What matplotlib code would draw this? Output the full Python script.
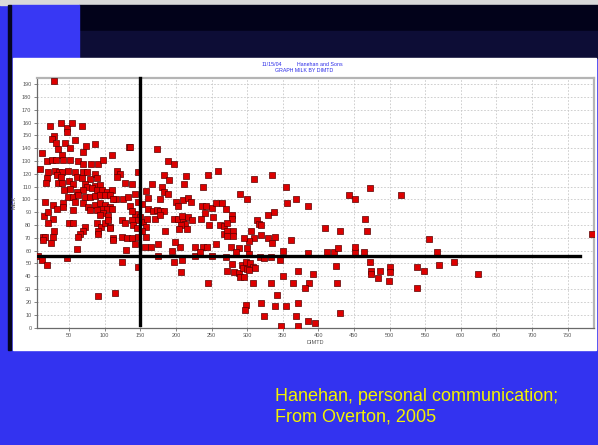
import numpy as np
import matplotlib
matplotlib.use("Agg")
import matplotlib.pyplot as plt
from matplotlib.patches import Rectangle

# herd test-day records: days in milk (DIMTD) vs milk yield
dimtd = [
    29, 23, 38.6, 46.6, 46.6, 53.6, 67.7, 28.8, 25.5, 31.6, 58.3, 44.3, 51.3, 86.4, 73.8,
    11.5, 34.9, 70, 109.8, 18.5, 25.5, 31.6, 39.6, 42, 51.3, 63, 70, 80.8, 91, 98.1,
    9.1, 20.8, 30.2, 36.3, 39.6, 49, 58.3, 70, 75.6, 86.4, 117.8, 121.5, 18.5, 32.5, 38.2,
    60.6, 67.7, 79.4, 88.7, 117.8, 17.6, 34.9, 39.6, 50.3, 56, 72.3, 74.7, 86.4, 93.4, 128.5,
    43.3, 51.3, 60.6, 70, 81.7, 88.7, 95.8, 102.8, 109.8, 49, 55, 63, 72.3, 79.4, 86.4,
    93.4, 100.4, 107.5, 115.9, 126.2, 133.2, 58.3, 70, 77, 86.4, 93.4, 100.4, 107.5, 111.2,
    95.8, 102.8, 109.8, 88.7, 16.2, 27.9, 42, 98.1, 105.1, 93.4, 14.8, 20.8, 33.5, 42, 56,
    79.4, 27, 20.8, 88.7, 94.4, 100.4, 105.1, 107.5, 123.8, 128.5, 50.3, 56, 72.3, 70, 65.3,
    63, 91, 91, 107.5, 28.8, 12.9, 16.2, 13.8, 24.1, 27.9, 61.6, 111.2, 111.2, 123.8, 130.9,
    130, 47.5, 6.8, 11.5, 19.4, 123.8, 91, 114.5, 134.6,
    # 135 - 270
    135, 173, 188.4, 197, 147, 184, 190, 213.7, 212, 237.6, 245.5, 258.6, 138, 167, 181,
    184, 188.4, 157.5, 142.5, 160.3, 177.6, 200, 203.4, 210.4, 217.5, 221, 236, 242, 250,
    257, 265, 135.5, 147, 152, 161, 168, 173, 177.6, 184, 170.6, 177.6, 142.5, 149.6, 146,
    138, 138, 154, 157.5, 159, 198, 203.4, 210, 217.5, 222, 209, 213, 235, 252.6, 241,
    246.5, 262, 267.5, 207, 204, 216, 185, 140, 145, 152, 157.5, 147, 138, 142.5, 156.6,
    165, 174.4, 205.7, 227, 238.5, 243, 257, 268, 198.7, 194, 175.3, 198, 208, 227, 234,
    251, 147, 207, 245.5,
    # 270 - 400
    334.6, 309, 354, 290, 299.5, 356.5, 368, 385, 270.4, 278.4, 278.4, 271.4, 271.4, 279.8,
    271.4, 279.8, 313.5, 317, 319, 330, 338, 305.5, 309, 319, 302, 295.7, 330, 339, 334.6,
    362, 278, 288, 284.5, 299.5, 302, 351, 385, 270, 318, 324, 333, 346, 272.3, 278.4,
    281.7, 289, 290, 295.7, 292.4, 298.5, 304, 308.8, 311, 294.8, 299.5, 303.2, 372, 393,
    351, 308, 333, 364, 387.5, 381, 342.5, 320, 339, 354, 372, 298.5, 297, 324, 369,
    347.7, 372, 386, 395.4,
    # beyond 400 DIM
    473, 443, 451, 516, 465, 410, 431, 469, 556, 412.5, 422, 428, 451, 452, 464, 566,
    473, 425, 474.5, 474.5, 487, 483.5, 500, 500, 499, 539, 548, 569, 591, 624, 539,
    426.5, 431, 784,
]
milk = [
    192.5, 157, 159.5, 156, 153, 159.5, 157, 149.5, 147, 144, 146.5, 143.7, 140, 143, 141.7,
    136, 139, 137, 134.8, 130, 131, 130.7, 134.8, 130.7, 130.7, 130, 128, 127.6, 128, 130.7,
    124, 121.7, 122, 121, 121.7, 122, 121.7, 121.7, 121.7, 120, 122, 120, 116.5, 119, 117.8,
    117.8, 116.5, 115.7, 116.5, 117.8, 112.6, 113, 113, 114, 112, 112, 110, 110.5, 111, 113,
    107.4, 108, 106, 107.4, 108.7, 107.4, 107, 106, 107, 101.7, 101.7, 103.5, 102, 101.7, 102.7,
    103.5, 103.5, 103.5, 100, 100, 101.7, 98.3, 97, 94.4, 95.7, 97, 95.7, 94.4, 100,
    92.3, 92.3, 92.3, 91.8, 98.3, 95.7, 97, 89, 87, 88, 87, 90.5, 92.3, 94.4, 91.8,
    91.8, 85, 81.4, 81.4, 78.7, 81.4, 84, 78.7, 84, 81.4, 81.4, 81.4, 78.2, 75, 73,
    70.4, 75, 73, 78, 75, 70.4, 71, 68.4, 66.3, 70.4, 61, 69.6, 68, 71, 69.6,
    60.5, 54, 56, 52.7, 48.8, 51.4, 24.6, 26.7, 140.8,
    # 135 - 270
    141, 139.5, 130, 127.7, 121, 119, 115, 118.6, 112, 110, 119, 122, 112, 112, 110,
    106, 104, 106.6, 104, 101.4, 100, 98, 95, 99.6, 101, 98, 95, 95, 93.6,
    97.5, 97, 95, 98, 96.5, 92.6, 91, 91.8, 91, 91.3, 85, 88, 88.7, 86.6, 84,
    91, 84, 82, 78.7, 84.8, 84.5, 84.5, 84.5, 86.6, 84, 87, 80.6, 85, 86, 89,
    80, 80, 79, 80, 76.7, 77, 75.6, 80, 77.4, 75, 71, 71, 69.7, 65, 63,
    63, 65, 63, 63, 63, 63, 65, 73, 67, 60, 56, 51.4, 53, 56, 59,
    56, 47.5, 43, 35,
    # 270 - 400
    119, 116, 109.5, 104, 100, 97, 100, 95, 92.3, 87.9, 84.5, 81.4, 75.7, 75.7,
    71.5, 71.5, 84, 81, 80, 88, 90.5, 75, 70, 72, 67.5, 70, 70, 70.5, 66,
    68, 63, 62, 59, 62, 57, 60, 58, 55, 55, 54, 55, 53, 44.4, 49.3,
    43.6, 42.8, 39.7, 39.2, 48.8, 51.4, 50, 47.5, 46.7, 46.2, 45.4, 44.9, 44, 42,
    40, 35, 35, 35, 35, 31, 25, 19.4, 17, 17, 19.4, 17.6, 14, 9, 9,
    1.2, 1.2, 5, 3.3,
    # beyond 400 DIM
    109, 103.5, 100, 103.5, 84.5, 78, 75, 75, 69, 59, 59, 62, 59, 63, 59, 59,
    51, 48, 44, 41.5, 44, 39, 47, 43.5, 36, 47, 44, 49, 51, 42, 31,
    35, 11, 73,
]

dim_ticks = list(range(50, 800, 50))
milk_ticks = list(range(0, 200, 10))
dim_cut = 150      # vertical reference at 150 DIM
milk_cut = 56      # horizontal reference, milk
milk_cut_end = 768

W, H = 598, 445
fig = plt.figure(figsize=(W / 100, H / 100), dpi=100)
fig.patch.set_facecolor("#3333f0")

# slide decoration drawn in pixel coordinates
bg = fig.add_axes([0, 0, 1, 1])
bg.set_xlim(0, W)
bg.set_ylim(H, 0)
bg.axis("off")
bg.add_patch(Rectangle((0, 0), W, 5, color="#d9d9d9"))
bg.add_patch(Rectangle((79, 5), W - 79, 27, color="#02021a"))
bg.add_patch(Rectangle((79, 31), W - 79, 27, color="#0d0d36"))
bg.add_patch(Rectangle((11, 5), 68, 53, color="#3838f4"))
bg.add_patch(Rectangle((8, 5), 3, 345, color="#050520"))
bg.add_patch(Rectangle((13, 58), 583, 292, color="white"))

bg.text(275, 388, "Hanehan, personal communication;\nFrom Overton, 2005",
        color="#f2f200", fontsize=13, family="Liberation Sans",
        va="top", ha="left", linespacing=1.3)

bg.text(262, 64, "11/15/04", color="#2a2ae8", fontsize=3.8, family="Liberation Sans",
        ha="left", va="center")
bg.text(297, 64, "Hanehan and Sons", color="#2a2ae8", fontsize=3.8,
        family="Liberation Sans", ha="left", va="center")
bg.text(304, 71, "GRAPH MILK BY DIMTD", color="#2a2ae8", fontsize=3.8,
        family="Liberation Sans", ha="center", va="center")

ax = fig.add_axes([37 / W, 1 - 327.5 / H, 557 / W, 249.8 / H])
ax.set_facecolor("white")
ax.set_xlim(5, 787)
ax.set_ylim(0, 195)

ax.set_xticks(dim_ticks)
ax.set_yticks(milk_ticks)
ax.tick_params(labelsize=4, colors="#555555", length=2, width=0.5, pad=2)
for lab in ax.get_xticklabels() + ax.get_yticklabels():
    lab.set_family("Liberation Sans")
ax.grid(True, color="#c8c8c8", linestyle=(0, (2, 2)), linewidth=0.6)
ax.set_axisbelow(True)

for side in ["left", "bottom"]:
    ax.spines[side].set_color("#6a6a6a")
    ax.spines[side].set_linewidth(0.9)
for side in ["top", "right"]:
    ax.spines[side].set_color("#b4b4b4")
    ax.spines[side].set_linewidth(1.6)

ax.set_xlabel("DIMTD", fontsize=4, color="#555555", family="Liberation Sans", labelpad=1.5)
ax.set_ylabel("MILK", fontsize=4, color="#555555", family="Liberation Sans")
ax.yaxis.set_label_coords(-20 / 557, 0.5)

ax.scatter(dimtd, milk, s=14, marker="s", color="#dd0000", edgecolors="#5a0000",
           linewidths=0.5, zorder=3)

ax.plot([dim_cut, dim_cut], [2, 195], color="black", lw=2.4, zorder=4, clip_on=False)
ax.plot([5, milk_cut_end], [milk_cut, milk_cut], color="black", lw=2.4, zorder=4)

fig.savefig("out.png", dpi=100, facecolor=fig.get_facecolor())
